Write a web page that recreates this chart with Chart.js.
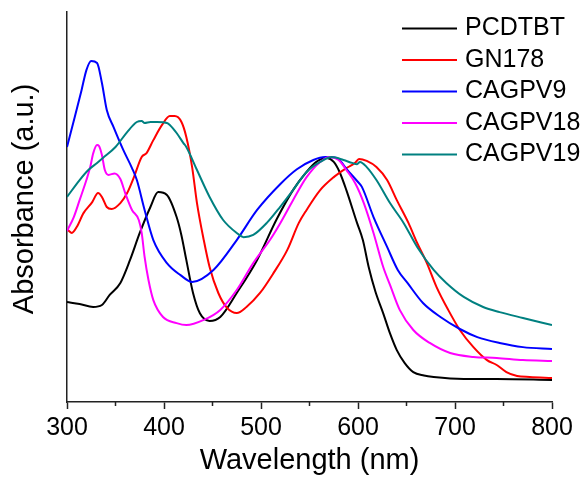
<!DOCTYPE html>
<html>
<head>
<meta charset="utf-8">
<script src="https://cdn.jsdelivr.net/npm/chart.js@4.4.1/dist/chart.umd.min.js"></script>
<style>
  html, body { margin: 0; padding: 0; background: #fff; }
</style>
</head>
<body>
<canvas id="absChart" width="587" height="482"></canvas>
<script>
// UV-vis spectra (normalised so the ~570 nm band = 1)
const seriesLabels = ["PCDTBT", "GN178", "CAGPV9", "CAGPV18", "CAGPV19"];
const xTickValues = [300, 400, 500, 600, 700, 800];

const pcdtbtNm  = [300, 313, 327, 336, 344, 355, 365, 375, 386, 394, 403, 413, 418, 423, 430, 437, 447, 458, 475, 496, 516, 533, 547, 557, 568, 575, 581, 588, 599, 605, 611, 618, 626, 633, 640, 648, 657, 668, 678, 709, 743, 800];
const pcdtbtAbs = [0.408, 0.400, 0.388, 0.396, 0.437, 0.486, 0.580, 0.690, 0.796, 0.857, 0.845, 0.755, 0.680, 0.580, 0.444, 0.362, 0.331, 0.347, 0.445, 0.580, 0.745, 0.865, 0.939, 0.980, 0.996, 0.980, 0.939, 0.865, 0.731, 0.661, 0.551, 0.450, 0.362, 0.280, 0.212, 0.160, 0.122, 0.108, 0.102, 0.094, 0.094, 0.090];

const gn178Nm  = [301, 305, 310, 317, 326, 332, 336, 341, 346, 355, 362, 369, 377, 382, 389, 398, 406, 411, 418, 423, 429, 434, 441, 447, 456, 465, 475, 485, 499, 513, 527, 539, 547, 561, 575, 588, 597, 601, 609, 619, 630, 640, 652, 661, 671, 681, 693, 705, 719, 733, 743, 753, 764, 777, 800];
const gn178Abs = [0.702, 0.690, 0.714, 0.771, 0.816, 0.853, 0.837, 0.796, 0.788, 0.812, 0.853, 0.918, 1.000, 1.016, 1.069, 1.131, 1.167, 1.167, 1.143, 1.082, 0.959, 0.812, 0.661, 0.551, 0.445, 0.384, 0.363, 0.388, 0.445, 0.527, 0.620, 0.731, 0.784, 0.865, 0.918, 0.955, 0.976, 0.992, 0.984, 0.959, 0.906, 0.824, 0.731, 0.649, 0.567, 0.469, 0.376, 0.294, 0.224, 0.171, 0.151, 0.122, 0.106, 0.102, 0.098];

const cagpv9Nm  = [300, 308, 315, 320, 325, 331, 336, 341, 348, 358, 367, 372, 380, 389, 403, 417, 429, 451, 475, 496, 520, 537, 554, 566, 578, 589, 600, 604, 616, 630, 641, 651, 667, 685, 705, 723, 746, 770, 800];
const cagpv9Abs = [1.041, 1.163, 1.273, 1.355, 1.392, 1.384, 1.302, 1.192, 1.122, 1.029, 0.955, 0.906, 0.784, 0.661, 0.567, 0.518, 0.490, 0.539, 0.661, 0.784, 0.890, 0.950, 0.988, 1.000, 0.996, 0.947, 0.898, 0.878, 0.755, 0.633, 0.539, 0.486, 0.404, 0.347, 0.298, 0.265, 0.241, 0.224, 0.216];

const cagpv18Nm  = [300, 307, 313, 320, 324, 327, 331, 333, 336, 339, 343, 349, 355, 360, 367, 374, 377, 380, 384, 389, 399, 413, 423, 441, 458, 475, 492, 509, 520, 533, 547, 561, 571, 580, 588, 597, 606, 616, 626, 633, 643, 657, 674, 695, 719, 743, 770, 800];
const cagpv18Abs = [0.698, 0.755, 0.824, 0.906, 0.960, 1.015, 1.049, 1.045, 1.008, 0.947, 0.927, 0.933, 0.910, 0.853, 0.784, 0.743, 0.690, 0.592, 0.498, 0.416, 0.347, 0.322, 0.314, 0.335, 0.376, 0.457, 0.567, 0.660, 0.731, 0.824, 0.918, 0.980, 1.000, 0.988, 0.947, 0.894, 0.812, 0.690, 0.551, 0.478, 0.376, 0.294, 0.241, 0.200, 0.184, 0.180, 0.171, 0.167];

const cagpv19Nm  = [300, 313, 322, 331, 337, 350, 362, 372, 377, 380, 386, 393, 403, 406, 413, 420, 423, 434, 447, 461, 475, 482, 492, 506, 520, 533, 547, 561, 573, 585, 594, 599, 602, 609, 619, 633, 647, 661, 678, 691, 709, 729, 746, 770, 800];
const cagpv19Abs = [0.837, 0.906, 0.947, 0.976, 0.996, 1.041, 1.102, 1.143, 1.147, 1.139, 1.143, 1.143, 1.139, 1.131, 1.098, 1.057, 1.041, 0.947, 0.837, 0.743, 0.690, 0.673, 0.682, 0.731, 0.798, 0.865, 0.939, 0.980, 1.000, 0.988, 0.976, 0.971, 0.980, 0.959, 0.906, 0.812, 0.731, 0.633, 0.539, 0.486, 0.429, 0.388, 0.367, 0.343, 0.314];

const seriesNm  = [pcdtbtNm, gn178Nm, cagpv9Nm, cagpv18Nm, cagpv19Nm];
const seriesAbs = [pcdtbtAbs, gn178Abs, cagpv9Abs, cagpv18Abs, cagpv19Abs];

const lineColors = ["#000000", "#ff0000", "#0000ff", "#ff00ff", "#008080"];
const fontFamily = '"Liberation Sans", Arial, sans-serif';
const axisColor = "#222222";

Chart.defaults.font.family = fontFamily;

// short minor ticks half way between the labelled ones
const minorTicks = {
    id: "minorTicks",
    afterDraw(chart) {
        const xs = chart.scales.x;
        const ctx = chart.ctx;
        const y0 = chart.chartArea.bottom;
        ctx.save();
        ctx.strokeStyle = axisColor;
        ctx.lineWidth = 1.5;
        for (let i = 0; i < xTickValues.length - 1; i++) {
            const px = xs.getPixelForValue((xTickValues[i] + xTickValues[i + 1]) / 2);
            ctx.beginPath();
            ctx.moveTo(px, y0);
            ctx.lineTo(px, y0 + 4);
            ctx.stroke();
        }
        ctx.restore();
    }
};

// legend in the top right corner, inside the plot
const cornerLegend = {
    id: "cornerLegend",
    afterDraw(chart) {
        const ctx = chart.ctx;
        ctx.save();
        ctx.font = "25px " + fontFamily;
        ctx.textBaseline = "middle";
        ctx.textAlign = "left";
        chart.data.datasets.forEach((ds, i) => {
            const y = 28.5 + i * 31.5;
            ctx.strokeStyle = ds.borderColor;
            ctx.lineWidth = 2;
            ctx.beginPath();
            ctx.moveTo(402, y);
            ctx.lineTo(457, y);
            ctx.stroke();
            ctx.fillStyle = "#000";
            ctx.fillText(ds.label, 465, y);
        });
        ctx.restore();
    }
};

const datasets = seriesLabels.map((label, i) => ({
    label: label,
    data: seriesNm[i].map((nm, j) => ({ x: nm, y: seriesAbs[i][j] })),
    borderColor: lineColors[i],
    backgroundColor: lineColors[i],
    borderWidth: 2,
    pointRadius: 0,
    fill: false,
    cubicInterpolationMode: "monotone",
    order: seriesLabels.length - i
}));

const absChart = new Chart(document.getElementById("absChart"), {
    type: "line",
    data: { datasets: datasets },
    options: {
        responsive: false,
        animation: false,
        devicePixelRatio: 1,
        layout: { padding: { left: 6, top: 12, right: 35, bottom: 0 } },
        plugins: {
            legend: { display: false },
            tooltip: { enabled: false }
        },
        scales: {
            x: {
                type: "linear",
                min: 300,
                max: 800,
                afterBuildTicks: (scale) => {
                    scale.ticks = xTickValues.map(v => ({ value: v }));
                },
                ticks: {
                    color: "#000",
                    font: { size: 25 },
                    padding: 4,
                    maxRotation: 0,
                    autoSkip: false
                },
                grid: {
                    drawOnChartArea: false,
                    drawTicks: true,
                    tickLength: 7,
                    tickWidth: 1.5,
                    tickColor: axisColor
                },
                border: { display: true, color: axisColor, width: 1.5 },
                title: {
                    display: true,
                    text: "Wavelength (nm)",
                    color: "#000",
                    font: { size: 29, lineHeight: 0.993 },
                    padding: { top: 0, bottom: 6.2 }
                }
            },
            y: {
                min: 0,
                max: 1.592,
                ticks: { display: false },
                grid: { display: false, drawTicks: false },
                border: { display: true, color: axisColor, width: 1.5 },
                title: {
                    display: true,
                    text: "  Absorbance (a.u.)",
                    color: "#000",
                    font: { size: 29 },
                    padding: { top: 1.6, bottom: 24.6 }
                }
            }
        }
    },
    plugins: [minorTicks, cornerLegend]
});
</script>
</body>
</html>
